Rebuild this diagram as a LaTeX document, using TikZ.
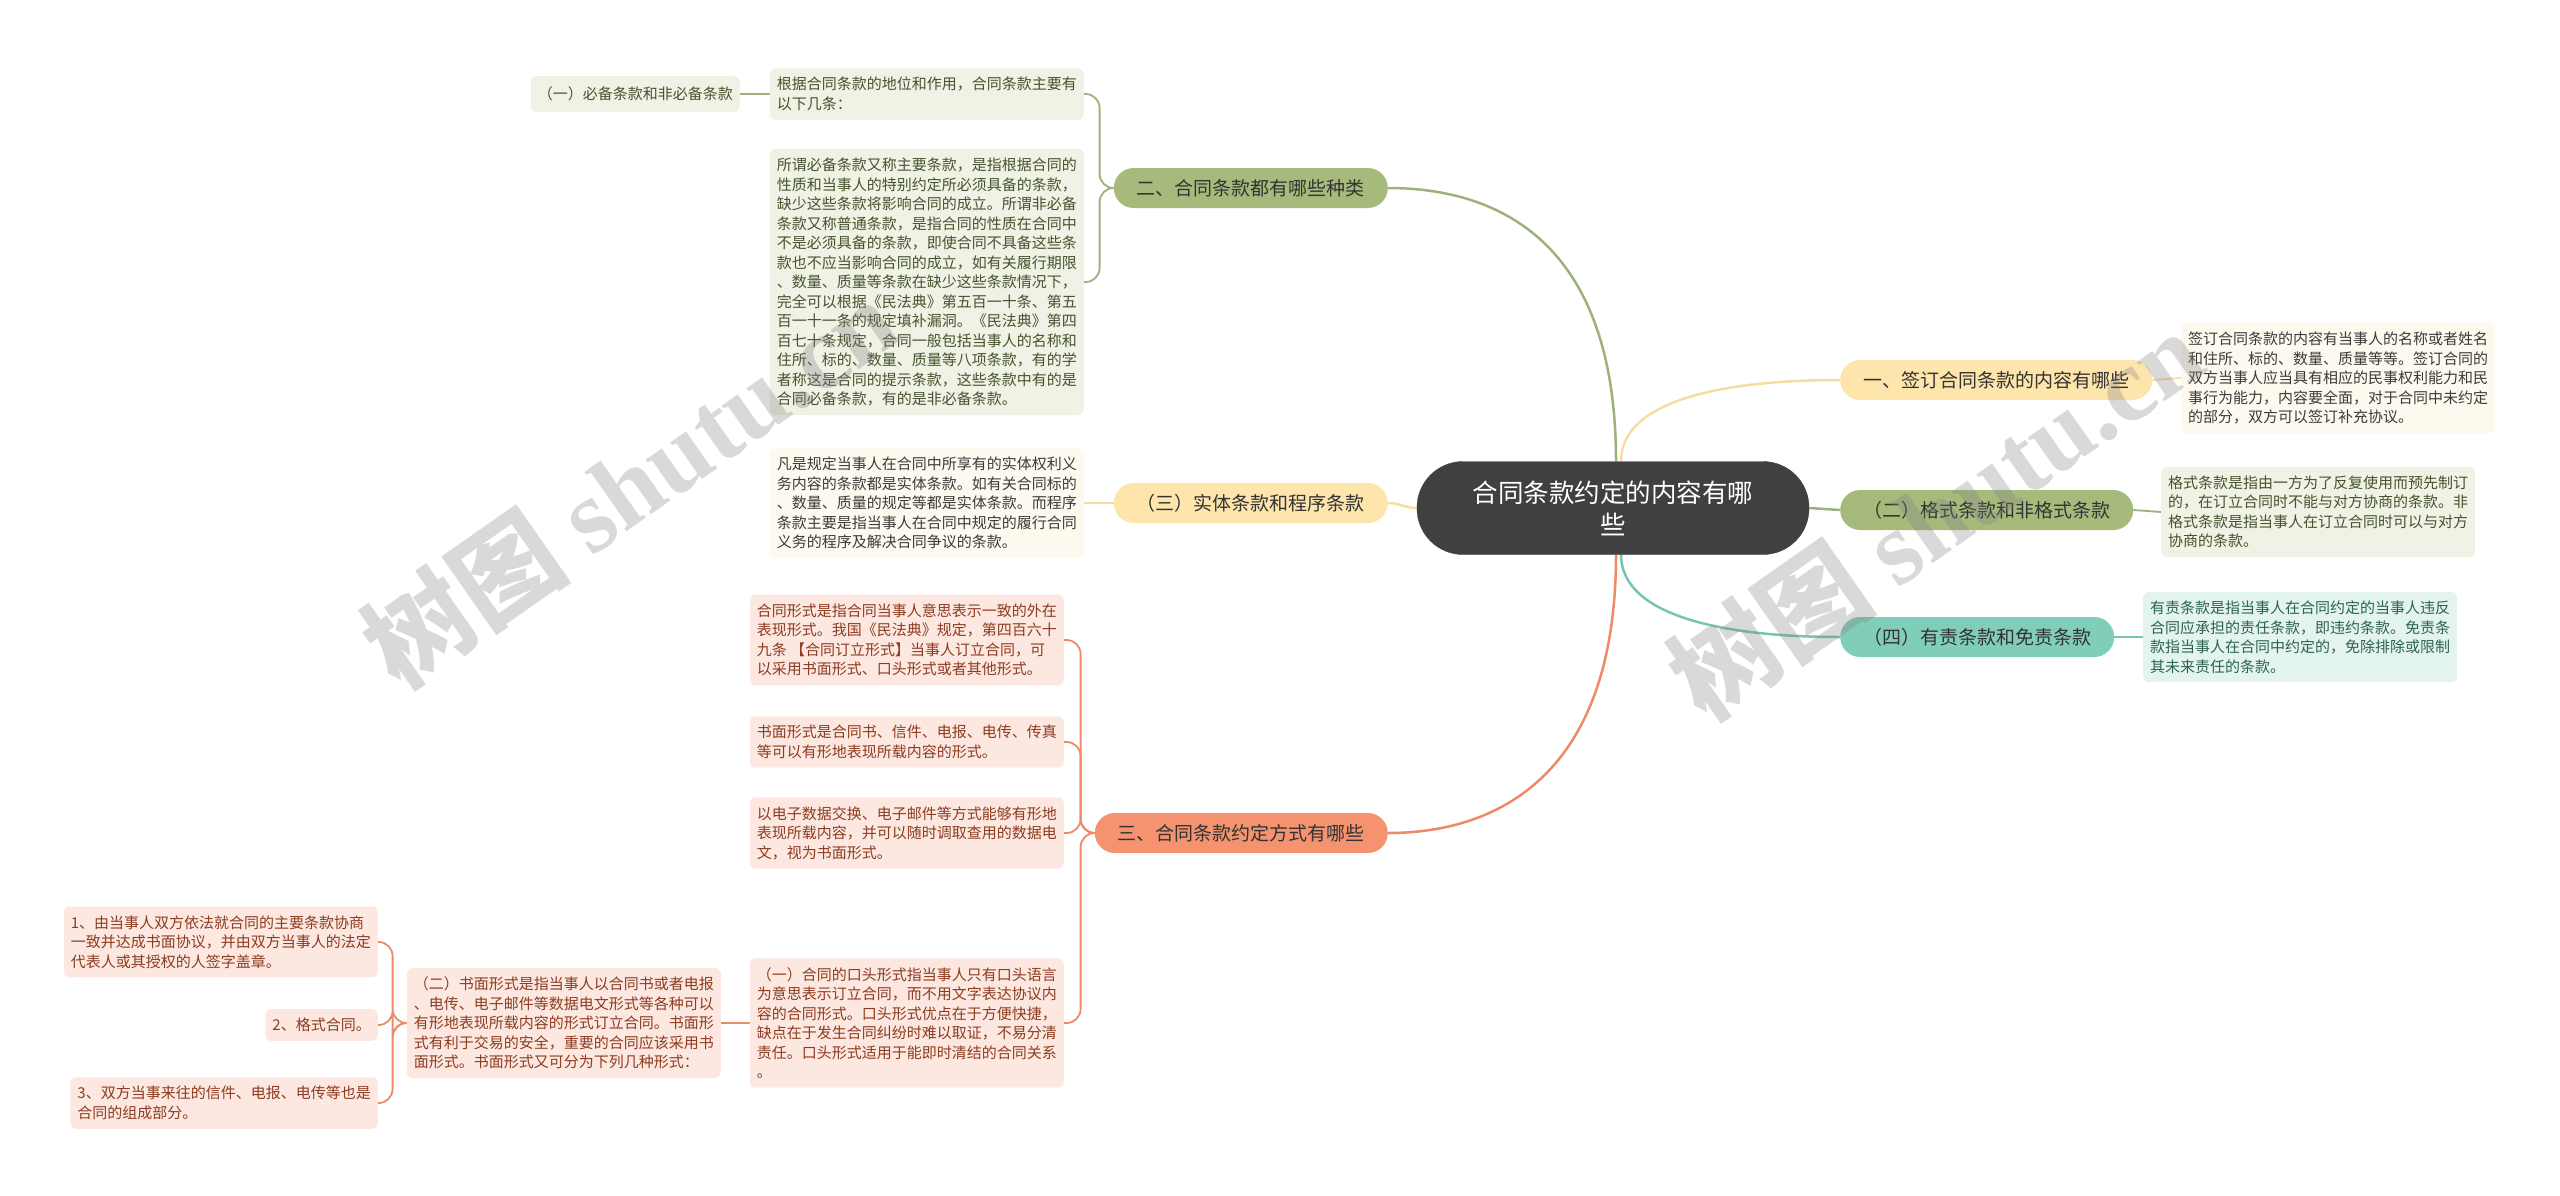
\documentclass[tikz,border=0pt]{standalone}
\usepackage{fontspec}
\setmainfont{Noto Sans CJK SC}
\newfontfamily\wmlatin{Liberation Serif}
\usetikzlibrary{positioning, backgrounds}

\definecolor{mapdark}{HTML}{404040}
\definecolor{branchtext}{HTML}{333333}
\definecolor{olivefill}{HTML}{A6BA7C}
\definecolor{oliveline}{HTML}{9DB27A}
\definecolor{oliveleaf}{HTML}{EFF2E5}
\definecolor{olivetext}{HTML}{46532F}
\definecolor{sandfill}{HTML}{FDE5AB}
\definecolor{sandline}{HTML}{F7DCA2}
\definecolor{sandleaf}{HTML}{FDF9EE}
\definecolor{sandtext}{HTML}{3B3B3B}
\definecolor{coralfill}{HTML}{F5926F}
\definecolor{coralline}{HTML}{EE8A68}
\definecolor{coralleaf}{HTML}{FDE8E1}
\definecolor{coraltext}{HTML}{8C3C20}
\definecolor{tealfill}{HTML}{80CDB9}
\definecolor{tealline}{HTML}{74C6AF}
\definecolor{tealleaf}{HTML}{E3F4EF}
\definecolor{tealtext}{HTML}{2E6254}

\tikzset{
  mapnode/.style={fill=mapdark, draw=black!75, rounded corners=46pt,
    minimum width=392pt, minimum height=93pt, inner sep=0pt,
    text=white, align=center, font=\fontsize{25.5pt}{32pt}\selectfont},
  branch/.style={rounded corners=20pt, minimum height=40pt, inner xsep=23pt,
    inner ysep=0pt, text=branchtext, font=\fontsize{19pt}{23pt}\selectfont},
  leaf/.style={rounded corners=6pt, align=left, inner xsep=7pt, inner ysep=9pt,
    font=\fontsize{15pt}{19.5pt}\selectfont},
  oleaf/.style={leaf, fill=oliveleaf, text=olivetext},
  sleaf/.style={leaf, fill=sandleaf, text=sandtext},
  cleaf/.style={leaf, fill=coralleaf, text=coraltext},
  tleaf/.style={leaf, fill=tealleaf, text=tealtext},
  mainlink/.style={line width=2.5pt},
  leaflink/.style={line width=1.8pt, rounded corners=14pt},
  watermark/.style={rotate=35, text=gray, text opacity=0.3,
    font=\fontsize{105pt}{105pt}\selectfont\bfseries}
}

\begin{document}
\begin{tikzpicture}[x=1pt, y=-1pt]
\useasboundingbox (0,0) rectangle (2560,1195);

% centre
\node[mapnode] (main) at (1613,508) {合同条款约定的内容有哪\\些};

% left branches
\node[branch, fill=olivefill, anchor=east] (kinds) at (1388,188) {二、合同条款都有哪些种类};
\node[branch, fill=sandfill, anchor=east] (subst) at (1388,503) {（三）实体条款和程序条款};
\node[branch, fill=coralfill, anchor=east] (ways) at (1388,833) {三、合同条款约定方式有哪些};

% right branches
\node[branch, fill=sandfill, anchor=west] (sign) at (1840,380) {一、签订合同条款的内容有哪些};
\node[branch, fill=olivefill, anchor=west] (form) at (1840,510) {（二）格式条款和非格式条款};
\node[branch, fill=tealfill, anchor=west] (duty) at (1840,637) {（四）有责条款和免责条款};

% leaves of kinds
\node[oleaf, anchor=east] (basis) at (1084,94) {根据合同条款的地位和作用，合同条款主要有\\以下几条：};
\node[oleaf, anchor=east, minimum height=36pt] (must) at (740,94) {（一）必备条款和非必备条款};
\node[oleaf, anchor=east] (mustdef) at (1084,282) {所谓必备条款又称主要条款，是指根据合同的\\
性质和当事人的特别约定所必须具备的条款，\\
缺少这些条款将影响合同的成立。所谓非必备\\
条款又称普通条款，是指合同的性质在合同中\\
不是必须具备的条款，即使合同不具备这些条\\
款也不应当影响合同的成立，如有关履行期限\\
、数量、质量等条款在缺少这些条款情况下，\\
完全可以根据《民法典》第五百一十条、第五\\
百一十一条的规定填补漏洞。《民法典》第四\\
百七十条规定，合同一般包括当事人的名称和\\
住所、标的、数量、质量等八项条款，有的学\\
者称这是合同的提示条款，这些条款中有的是\\
合同必备条款，有的是非必备条款。};

% leaf of subst
\node[sleaf, anchor=east] (substdef) at (1084,503) {凡是规定当事人在合同中所享有的实体权利义\\
务内容的条款都是实体条款。如有关合同标的\\
、数量、质量的规定等都是实体条款。而程序\\
条款主要是指当事人在合同中规定的履行合同\\
义务的程序及解决合同争议的条款。};

% leaves of ways
\node[cleaf, anchor=east] (formdef) at (1064,640) {合同形式是指合同当事人意思表示一致的外在\\
表现形式。我国《民法典》规定，第四百六十\\
九条 【合同订立形式】当事人订立合同，可\\
以采用书面形式、口头形式或者其他形式。};
\node[cleaf, anchor=east] (paper) at (1064,742) {书面形式是合同书、信件、电报、电传、传真\\
等可以有形地表现所载内容的形式。};
\node[cleaf, anchor=east] (edata) at (1064,833) {以电子数据交换、电子邮件等方式能够有形地\\
表现所载内容，并可以随时调取查用的数据电\\
文，视为书面形式。};
\node[cleaf, anchor=east] (oral) at (1064,1023) {（一）合同的口头形式指当事人只有口头语言\\
为意思表示订立合同，而不用文字表达协议内\\
容的合同形式。口头形式优点在于方便快捷，\\
缺点在于发生合同纠纷时难以取证，不易分清\\
责任。口头形式适用于能即时清结的合同关系\\
。};
\node[cleaf, anchor=east] (written) at (721,1023) {（二）书面形式是指当事人以合同书或者电报\\
、电传、电子邮件等数据电文形式等各种可以\\
有形地表现所载内容的形式订立合同。书面形\\
式有利于交易的安全，重要的合同应该采用书\\
面形式。书面形式又可分为下列几种形式：};
\node[cleaf, anchor=east] (wone) at (378,942) {1、由当事人双方依法就合同的主要条款协商\\
一致并达成书面协议，并由双方当事人的法定\\
代表人或其授权的人签字盖章。};
\node[cleaf, anchor=east] (wtwo) at (378,1025) {2、格式合同。};
\node[cleaf, anchor=east] (wthree) at (378,1103) {3、双方当事来往的信件、电报、电传等也是\\
合同的组成部分。};

% right leaves
\node[sleaf, anchor=west] (signdef) at (2181,378) {签订合同条款的内容有当事人的名称或者姓名\\
和住所、标的、数量、质量等等。签订合同的\\
双方当事人应当具有相应的民事权利能力和民\\
事行为能力，内容要全面，对于合同中未约定\\
的部分，双方可以签订补充协议。};
\node[oleaf, anchor=west] (formclause) at (2161,512) {格式条款是指由一方为了反复使用而预先制订\\
的，在订立合同时不能与对方协商的条款。非\\
格式条款是指当事人在订立合同时可以与对方\\
协商的条款。};
\node[tleaf, anchor=west] (dutydef) at (2143,637) {有责条款是指当事人在合同约定的当事人违反\\
合同应承担的责任条款，即违约条款。免责条\\
款指当事人在合同中约定的，免除排除或限制\\
其未来责任的条款。};

\begin{scope}[on background layer]
  % centre to branches
  \draw[mainlink, oliveline] ([xshift=3pt]main.north) .. controls +(0,-220) and +(110,0) .. (kinds.east);
  \draw[mainlink, sandline] (main.west) .. controls +(-12,0) and +(12,0) .. (subst.east);
  \draw[mainlink, coralline] ([xshift=3pt]main.south) .. controls +(0,220) and +(110,0) .. (ways.east);
  \draw[mainlink, sandline] ([xshift=8pt]main.north) .. controls +(0,-60) and +(-120,0) .. (sign.west);
  \draw[mainlink, oliveline] (main.east) -- (form.west);
  \draw[mainlink, tealline] ([xshift=8pt]main.south) .. controls +(0,60) and +(-120,0) .. (duty.west);

  % branches to leaves
  \foreach \leafname in {basis, mustdef}
    \draw[leaflink, oliveline] (kinds.west) -- ++(-14,0) |- (\leafname.east);
  \draw[leaflink, oliveline] (basis.west) -- (must.east);
  \draw[leaflink, sandline] (subst.west) -- (substdef.east);
  \foreach \leafname in {formdef, paper, edata, oral}
    \draw[leaflink, coralline] (ways.west) -- ++(-14,0) |- (\leafname.east);
  \draw[leaflink, coralline] (oral.west) -- (written.east);
  \foreach \leafname in {wone, wtwo, wthree}
    \draw[leaflink, coralline] (written.west) -- ++(-14,0) |- (\leafname.east);
  \draw[leaflink, sandline] (sign.east) -- (signdef.west);
  \draw[leaflink, oliveline] (form.east) -- (formclause.west);
  \draw[leaflink, tealline] (duty.east) -- (dutydef.west);
\end{scope}

% watermarks
\node[watermark] (wmleft) at (629,482) {树图 {\wmlatin shutu.cn}};
\node[watermark] (wmright) at (1935,514) {树图 {\wmlatin shutu.cn}};
\end{tikzpicture}
\end{document}
